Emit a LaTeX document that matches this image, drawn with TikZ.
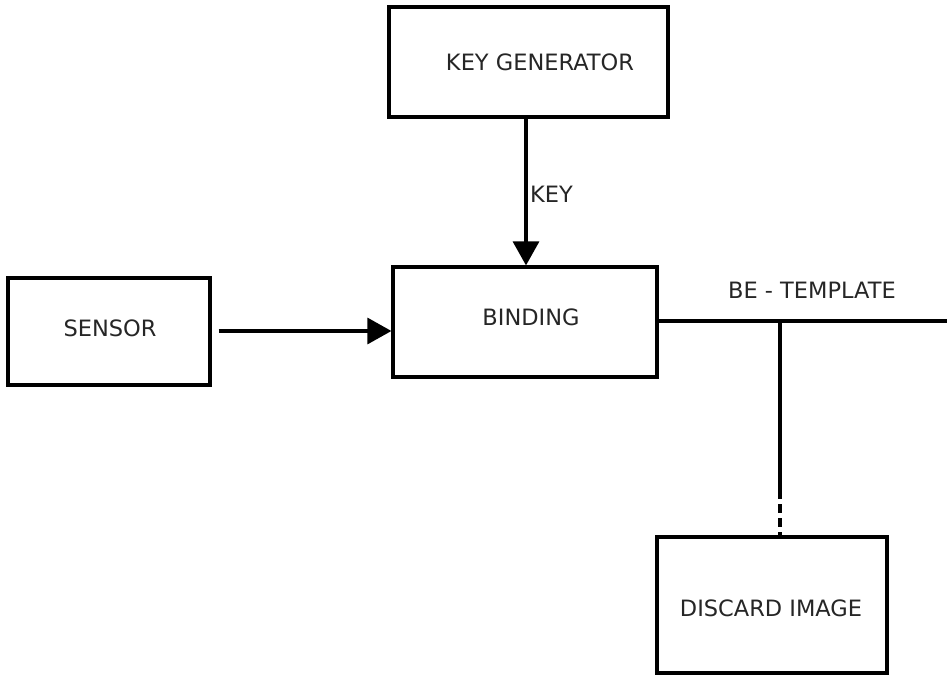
\documentclass[tikz,border=0pt]{standalone}
\usepackage{fontspec}
\setmainfont{DejaVu Sans}
\usetikzlibrary{arrows.meta}
\begin{document}
\begin{tikzpicture}[x=1pt,y=-1pt,
  blockbox/.style={draw=black,line width=3.2pt,rectangle,inner sep=0pt,fill=white},
  lbl/.style={font=\fontsize{22.5}{24}\selectfont,text=black!85,inner sep=0pt},
  conn/.style={draw=black,line width=3.2pt},
  arr/.style={conn,-{Triangle[length=24pt,width=26pt]}}]
\useasboundingbox[fill=white] (0,0) rectangle (947,676);
\node[blockbox,minimum width=279pt,minimum height=110pt] (keygen) at (528.5,62) {};
\node[lbl] (keygent) at (540,62) {KEY GENERATOR};
\node[blockbox,minimum width=264pt,minimum height=110pt] (binding) at (525,322) {};
\node[lbl] (bindingt) at (531,317) {BINDING};
\node[blockbox,minimum width=202pt,minimum height=107pt] (sensor) at (109,331.5) {};
\node[lbl] (sensort) at (110,328) {SENSOR};
\node[blockbox,minimum width=230pt,minimum height=136pt] (discard) at (772,605) {};
\node[lbl] (discardt) at (771,608) {DISCARD IMAGE};
% connectors
\draw[arr] (keygen.south -| 526,0) -- (binding.north -| 526,0);
\node[lbl,anchor=west] (keyl) at (530,194) {KEY};
\draw[arr,shorten <=7pt] (sensor.east |- 0,331) -- (binding.west |- 0,331);
\coordinate (rend) at (947,321);
\coordinate (j) at (780,321);
\coordinate (d) at (780,490);
\draw[conn] (binding.east |- rend) -- (rend);
\node[lbl] (bel) at (812,290) {BE - TEMPLATE};
\draw[conn] (j) -- (d);
\draw[conn,dash pattern=on 9pt off 5pt] (d) -- (discard.north -| j);
\end{tikzpicture}
\end{document}
